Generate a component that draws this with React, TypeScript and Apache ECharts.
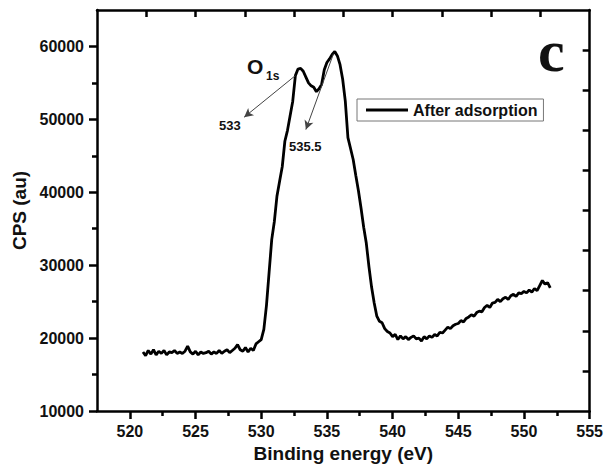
import React, { useEffect, useRef } from "react";
import * as echarts from "echarts";

const energy = [
  521.0, 521.2, 521.4, 521.6, 521.8, 522.0, 522.2, 522.4, 522.6, 522.8,
  523.0, 523.2, 523.4, 523.6, 523.8, 524.0, 524.2, 524.4, 524.6, 524.8,
  525.0, 525.2, 525.4, 525.6, 525.8, 526.0, 526.2, 526.4, 526.6, 526.8,
  527.0, 527.2, 527.4, 527.6, 527.8, 528.0, 528.2, 528.4, 528.6, 528.8,
  529.0, 529.2, 529.4, 529.6, 529.8, 530.0, 530.2, 530.4, 530.6, 530.8,
  531.0, 531.2, 531.4, 531.6, 531.8, 532.0, 532.2, 532.4, 532.6, 532.8,
  533.0, 533.2, 533.4, 533.6, 533.8, 534.0, 534.2, 534.4, 534.6, 534.8,
  535.0, 535.2, 535.4, 535.6, 535.8, 536.0, 536.2, 536.4, 536.6, 536.8,
  537.0, 537.2, 537.4, 537.6, 537.8, 538.0, 538.2, 538.4, 538.6, 538.8,
  539.0, 539.2, 539.4, 539.6, 539.8, 540.0, 540.2, 540.4, 540.6, 540.8,
  541.0, 541.2, 541.4, 541.6, 541.8, 542.0, 542.2, 542.4, 542.6, 542.8,
  543.0, 543.2, 543.4, 543.6, 543.8, 544.0, 544.2, 544.4, 544.6, 544.8,
  545.0, 545.2, 545.4, 545.6, 545.8, 546.0, 546.2, 546.4, 546.6, 546.8,
  547.0, 547.2, 547.4, 547.6, 547.8, 548.0, 548.2, 548.4, 548.6, 548.8,
  549.0, 549.2, 549.4, 549.6, 549.8, 550.0, 550.2, 550.4, 550.6, 550.8,
  551.0, 551.2, 551.4, 551.6, 551.8, 552.0,
];

const cps = [
  18100, 17600, 18300, 17800, 18400, 17700, 18200, 17900, 18300, 17700,
  18100, 18000, 18300, 17900, 18100, 17900, 18200, 18900, 18100, 17800,
  18200, 17700, 18100, 17900, 18000, 18200, 17800, 18100, 17900, 18300,
  17900, 18200, 18400, 18000, 18300, 18600, 19100, 18400, 18200, 18700,
  18100, 18600, 18300, 19200, 19500, 19800, 21200, 24500, 29000, 33500,
  36000, 39500, 41500, 43500, 47000, 48500, 50500, 52500, 56000, 56900,
  57000, 56600, 55800, 55000, 54600, 54400, 53800, 54200, 54800, 56800,
  57800, 58300, 58900, 59300, 58700, 57500, 55500, 52500, 47500, 46000,
  44500, 42300, 40200, 37800, 35200, 33000, 29800, 27000, 24800, 23000,
  22300, 22100, 21300, 20900, 20700, 20200, 20500, 19800, 20300, 19900,
  20200, 19800, 20100, 20300, 19900, 20000, 19600, 20200, 19900, 20300,
  20100, 20500, 20300, 20800, 20700, 21100, 21500, 21300, 21700, 21900,
  22000, 22400, 22200, 22700, 22900, 23200, 23000, 23500, 23700, 23600,
  24200, 24500, 24200, 24800, 24900, 25300, 25000, 25400, 25600, 25300,
  25800, 26000, 25700, 26200, 26100, 26400, 26200, 26600, 26300, 26800,
  26500, 27200, 27900, 27400, 27600, 26900,
];

const xMajorTicks = [520, 525, 530, 535, 540, 545, 550, 555];
const xMinorTicks = [522.5, 527.5, 532.5, 537.5, 542.5, 547.5, 552.5];
const yMajorTicks = [10000, 20000, 30000, 40000, 50000, 60000];
const yMinorTicks = [15000, 25000, 35000, 45000, 55000];
const frameTicks = [1, 2, 3, 4, 5, 6, 7, 8, 9];
const seriesName = "After adsorption";
const peakLabels = ["533", "535.5"];
// arrow [start, end] in data coordinates
const arrow533 = [[532.6, 56000], [528.7, 50300]];
const arrow5355 = [[535.5, 59000], [533.4, 48600]];

const FONT = "'Liberation Sans', Arial, sans-serif";

export default function App() {
  const ref = useRef<HTMLDivElement>(null);
  useEffect(() => {
    if (!ref.current) return;
    const chart = echarts.init(ref.current, undefined, { renderer: "svg" });
    const data = energy.map((e, i) => [e, cps[i]]);
    const axisLine = () => ({ show: true, onZero: false, lineStyle: { color: "#000", width: 2.5 } });
    const tickStyle = () => ({ color: "#000", width: 2.5 });
    chart.setOption({
      animation: false,
      backgroundColor: "#fff",
      grid: { left: 97, right: 14, top: 10, bottom: 57, containLabel: false },
      legend: {
        data: [seriesName],
        left: 357,
        top: 99,
        icon: "rect",
        itemWidth: 42,
        itemHeight: 3,
        padding: [3, 6, 3, 9],
        borderColor: "#777",
        borderWidth: 1,
        textStyle: { fontFamily: FONT, fontWeight: "bold", fontSize: 16, color: "#111" },
      },
      xAxis: [
        {
          type: "value",
          position: "bottom",
          min: 517.5,
          max: 555,
          name: "Binding energy (eV)",
          nameLocation: "middle",
          nameGap: 33,
          nameTextStyle: { fontFamily: FONT, fontWeight: "bold", fontSize: 19, color: "#111" },
          axisLine: axisLine(),
          axisTick: { show: true, customValues: xMajorTicks, length: 8, lineStyle: tickStyle() },
          axisLabel: {
            customValues: xMajorTicks,
            margin: 12,
            fontFamily: FONT,
            fontWeight: "bold",
            fontSize: 16,
            color: "#111",
          },
          splitLine: { show: false },
        },
        {
          type: "value",
          position: "bottom",
          min: 517.5,
          max: 555,
          axisLine: { show: false, onZero: false },
          axisTick: { show: true, customValues: xMinorTicks, length: 5, lineStyle: tickStyle() },
          axisLabel: { show: false },
          splitLine: { show: false },
        },
        {
          type: "value",
          position: "top",
          min: 0,
          max: 10,
          axisLine: axisLine(),
          axisTick: { show: true, inside: true, customValues: frameTicks, length: 7, lineStyle: tickStyle() },
          axisLabel: { show: false },
          splitLine: { show: false },
        },
      ],
      yAxis: [
        {
          type: "value",
          position: "left",
          min: 10000,
          max: 65000,
          name: "CPS (au)",
          nameLocation: "middle",
          nameGap: 62,
          nameTextStyle: { fontFamily: FONT, fontWeight: "bold", fontSize: 19, color: "#111" },
          axisLine: axisLine(),
          axisTick: { show: true, customValues: yMajorTicks, length: 8, lineStyle: tickStyle() },
          axisLabel: {
            customValues: yMajorTicks,
            formatter: (v: number) => String(v),
            margin: 13,
            fontFamily: FONT,
            fontWeight: "bold",
            fontSize: 16,
            color: "#111",
          },
          splitLine: { show: false },
        },
        {
          type: "value",
          position: "left",
          min: 10000,
          max: 65000,
          axisLine: { show: false, onZero: false },
          axisTick: { show: true, customValues: yMinorTicks, length: 5, lineStyle: tickStyle() },
          axisLabel: { show: false },
          splitLine: { show: false },
        },
        {
          type: "value",
          position: "right",
          min: 0,
          max: 10,
          axisLine: axisLine(),
          axisTick: { show: true, inside: true, customValues: frameTicks, length: 7, lineStyle: tickStyle() },
          axisLabel: { show: false },
          splitLine: { show: false },
        },
      ],
      series: [
        {
          name: seriesName,
          type: "line",
          xAxisIndex: 0,
          yAxisIndex: 0,
          data,
          showSymbol: false,
          symbol: "none",
          color: "#000",
          lineStyle: { color: "#000", width: 2.8 },
          markLine: {
            silent: true,
            symbol: ["none", "arrow"],
            symbolSize: [7, 9],
            label: { show: false },
            lineStyle: { color: "#444", width: 1, type: "solid" },
            data: [
              [{ coord: arrow533[0] }, { coord: arrow533[1] }],
              [{ coord: arrow5355[0] }, { coord: arrow5355[1] }],
            ],
          },
        },
      ],
      graphic: [
        {
          type: "text",
          left: 538,
          top: 21,
          style: {
            text: "c",
            font: "bold 60px 'Liberation Serif', 'Times New Roman', serif",
            fill: "#111",
          },
        },
        {
          type: "text",
          left: 247,
          top: 56,
          style: { text: "O", font: `bold 21px ${FONT}`, fill: "#111" },
        },
        {
          type: "text",
          left: 266,
          top: 70,
          style: { text: "1s", font: `bold 12px ${FONT}`, fill: "#111" },
        },
        {
          type: "text",
          left: 219,
          top: 119,
          style: { text: peakLabels[0], font: `bold 13px ${FONT}`, fill: "#111" },
        },
        {
          type: "text",
          left: 289,
          top: 140,
          style: { text: peakLabels[1], font: `bold 13px ${FONT}`, fill: "#111" },
        },
      ],
    });
    return () => chart.dispose();
  }, []);
  return (
    <div
      ref={ref}
      style={{ position: "fixed", left: 0, top: 0, width: 606, height: 468, background: "#fff" }}
    />
  );
}
